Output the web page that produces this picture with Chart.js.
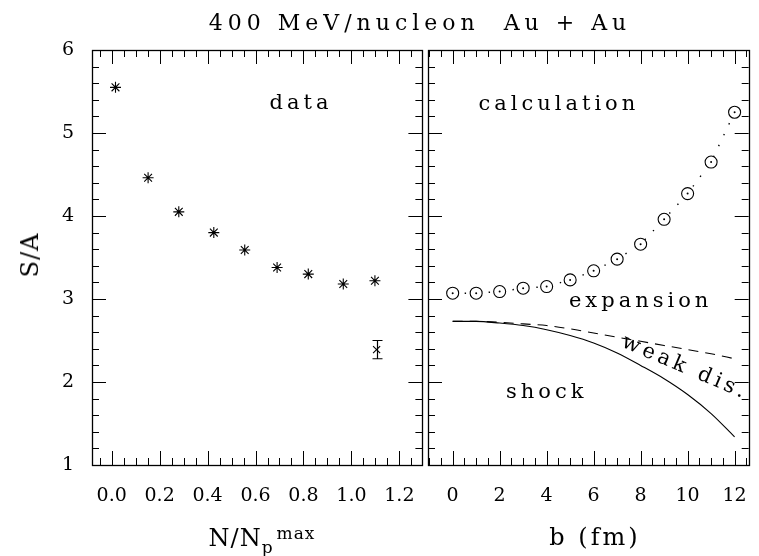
<!DOCTYPE html>
<html>
<head>
<meta charset="utf-8">
<title>S/A 400 MeV/nucleon Au + Au</title>
<script src="https://cdn.jsdelivr.net/npm/chart.js@4.4.1/dist/chart.umd.min.js"></script>
<style>
  body { margin: 0; background: #fff; }
  #wrap { position: relative; width: 759px; height: 556px; font-family: "DejaVu Serif", serif; color: #000; overflow: hidden; }
  canvas { position: absolute; top: 0; }
  #leftChart { left: 0; }
  #rightChart { left: 408px; }
  .lbl { position: absolute; white-space: nowrap; line-height: 1; }
  #title { left: 420px; top: 12px; font-size: 22px; letter-spacing: 5px; transform: translateX(-50%); }
  #ylabel { left: 30px; top: 255px; font-size: 24px; letter-spacing: 1px; transform: translate(-50%, -50%) rotate(-90deg); }
  #xlabelLeft { left: 262px; top: 525px; font-size: 24px; letter-spacing: 1px; transform: translateX(-50%); }
  #xlabelLeft sub { font-size: 17px; vertical-align: -7px; }
  #xlabelLeft sup { font-size: 17px; vertical-align: 7px; letter-spacing: 1px; margin-left: 3px; }
  #xlabelRight { left: 595px; top: 525px; font-size: 24px; letter-spacing: 3px; transform: translateX(-50%); }
</style>
</head>
<body>
<div id="wrap">
  <canvas id="leftChart" width="429" height="556"></canvas>
  <canvas id="rightChart" width="351" height="556"></canvas>
  <div class="lbl" id="title">400 MeV/nucleon&nbsp; Au + Au</div>
  <div class="lbl" id="ylabel">S/A</div>
  <div class="lbl" id="xlabelLeft">N/N<sub>p</sub><sup>max</sup></div>
  <div class="lbl" id="xlabelRight">b (fm)</div>
</div>
<script>
// measured S/A versus N/Np^max
const dataX = [0.016, 0.152, 0.28, 0.426, 0.555, 0.69, 0.82, 0.966, 1.098];
const dataSA = [5.55, 4.46, 4.05, 3.80, 3.59, 3.38, 3.30, 3.18, 3.22];

// single point with error bar
const refX = [1.105];
const refSA = [2.39];
const refLow = [2.28];
const refHigh = [2.50];

// calculation versus impact parameter
const bValues = [0, 1, 2, 3, 4, 5, 6, 7, 8, 9, 10, 11, 12];
const calcSA = [3.07, 3.07, 3.09, 3.13, 3.15, 3.23, 3.34, 3.48, 3.66, 3.96, 4.27, 4.65, 5.25];
const shockSA = [2.73, 2.73, 2.71, 2.68, 2.63, 2.56, 2.47, 2.35, 2.20, 2.04, 1.85, 1.62, 1.34];
const weakSA = [2.73, 2.73, 2.72, 2.70, 2.68, 2.64, 2.59, 2.54, 2.49, 2.44, 2.39, 2.34, 2.28];

// axes
const yRange = [1, 6];
const yMajor = 1;
const yMinor = 0.2;
const leftRange = [-0.082, 1.296];
const leftMajor = 0.2;
const leftMinor = 0.05;
const rightRange = [-1.05, 12.6];
const rightMajor = 2;
const rightMinor = 0.5;

const serif = "DejaVu Serif";
const tickFont = { family: serif, size: 19 };

function pairs(xs, ys) {
  return xs.map((x, i) => ({ x, y: ys[i] }));
}

// inward ticks on all four sides plus the frame
const frameTicks = {
  id: "frameTicks",
  afterDraw(chart, args, opts) {
    const { ctx, chartArea: a } = chart;
    const x = chart.scales.x;
    const y = chart.scales.y;
    ctx.save();
    ctx.strokeStyle = "#000";
    ctx.lineWidth = 1;
    ctx.beginPath();
    const xi0 = Math.ceil(x.min / opts.xMinor - 1e-6);
    const xi1 = Math.floor(x.max / opts.xMinor + 1e-6);
    const xPer = Math.round(opts.xMajor / opts.xMinor);
    for (let i = xi0; i <= xi1; i++) {
      const px = Math.round(x.getPixelForValue(i * opts.xMinor)) + 0.5;
      const len = i % xPer === 0 ? 14 : 7;
      ctx.moveTo(px, a.bottom);
      ctx.lineTo(px, a.bottom - len);
      ctx.moveTo(px, a.top);
      ctx.lineTo(px, a.top + len);
    }
    const yi0 = Math.ceil(y.min / yMinor - 1e-6);
    const yi1 = Math.floor(y.max / yMinor + 1e-6);
    const yPer = Math.round(yMajor / yMinor);
    for (let i = yi0; i <= yi1; i++) {
      const py = Math.round(y.getPixelForValue(i * yMinor)) + 0.5;
      const len = i % yPer === 0 ? 14 : 7;
      ctx.moveTo(a.left, py);
      ctx.lineTo(a.left + len, py);
      ctx.moveTo(a.right, py);
      ctx.lineTo(a.right - len, py);
    }
    ctx.stroke();
    ctx.lineWidth = 1.3;
    ctx.strokeRect(Math.round(a.left) + 0.5, Math.round(a.top) + 0.5,
      Math.round(a.right - a.left), Math.round(a.bottom - a.top));
    ctx.restore();
  }
};

// text placed in data coordinates
const notes = {
  id: "notes",
  afterDraw(chart, args, opts) {
    const { ctx } = chart;
    const x = chart.scales.x;
    const y = chart.scales.y;
    ctx.save();
    ctx.fillStyle = "#000";
    ctx.font = "21px " + serif;
    ctx.letterSpacing = "4px";
    ctx.textAlign = "center";
    ctx.textBaseline = "middle";
    opts.items.forEach(n => {
      ctx.save();
      ctx.translate(x.getPixelForValue(n.x), y.getPixelForValue(n.y));
      if (n.rot) ctx.rotate(n.rot * Math.PI / 180);
      ctx.fillText(n.text, 0, 0);
      ctx.restore();
    });
    ctx.restore();
  }
};

// vertical error bar with caps
const errorBars = {
  id: "errorBars",
  afterDatasetsDraw(chart) {
    const { ctx } = chart;
    const x = chart.scales.x;
    const y = chart.scales.y;
    ctx.save();
    ctx.strokeStyle = "#000";
    ctx.lineWidth = 1.2;
    refX.forEach((v, i) => {
      const px = Math.round(x.getPixelForValue(v)) + 0.5;
      const top = y.getPixelForValue(refHigh[i]);
      const bot = y.getPixelForValue(refLow[i]);
      ctx.beginPath();
      ctx.moveTo(px, top);
      ctx.lineTo(px, bot);
      ctx.moveTo(px - 5, top);
      ctx.lineTo(px + 5, top);
      ctx.moveTo(px - 5, bot);
      ctx.lineTo(px + 5, bot);
      ctx.stroke();
    });
    ctx.restore();
  }
};

function baseScales(range, major, decimals, yWidth, showY) {
  return {
    x: {
      type: "linear",
      min: range[0],
      max: range[1],
      grid: { display: false },
      border: { display: false },
      ticks: {
        stepSize: major,
        includeBounds: false,
        autoSkip: false,
        maxRotation: 0,
        padding: 12,
        color: "#000",
        font: tickFont,
        callback: v => Number(v).toFixed(decimals)
      },
      afterFit: s => { s.height = 91; }
    },
    y: {
      type: "linear",
      display: showY,
      min: yRange[0],
      max: yRange[1],
      grid: { display: false },
      border: { display: false },
      ticks: {
        stepSize: yMajor,
        includeBounds: false,
        padding: 10,
        color: "#000",
        font: tickFont
      },
      afterFit: s => { s.width = yWidth; }
    }
  };
}

function createLeftChart() {
  const ctx = document.getElementById("leftChart");
  new Chart(ctx, {
    type: "scatter",
    data: {
      datasets: [
        {
          data: pairs(dataX, dataSA),
          pointStyle: "star",
          pointRadius: 5.5,
          pointBorderColor: "#000",
          pointBorderWidth: 1.1,
          pointBackgroundColor: "#000"
        },
        {
          data: pairs(refX, refSA),
          pointStyle: "crossRot",
          pointRadius: 5,
          pointBorderColor: "#000",
          pointBorderWidth: 1.1
        }
      ]
    },
    options: {
      responsive: false,
      animation: false,
      events: [],
      layout: { padding: { top: 50, right: 1, left: 0, bottom: 0 } },
      scales: baseScales(leftRange, leftMajor, 1, 92, true),
      plugins: {
        legend: { display: false },
        tooltip: { enabled: false },
        frameTicks: { xMajor: leftMajor, xMinor: leftMinor },
        notes: { items: [{ text: "data", x: 0.79, y: 5.35 }] }
      }
    },
    plugins: [frameTicks, notes, errorBars]
  });
}

function createRightChart() {
  const ctx = document.getElementById("rightChart");
  new Chart(ctx, {
    type: "scatter",
    data: {
      datasets: [
        {
          data: pairs(bValues, calcSA),
          pointRadius: 1,
          pointBorderWidth: 0,
          pointBackgroundColor: "#000",
          order: 0
        },
        {
          data: pairs(bValues, calcSA),
          showLine: true,
          borderColor: "#000",
          borderWidth: 1.4,
          borderDash: [1.4, 10.6],
          pointStyle: "circle",
          pointRadius: 6,
          pointBorderColor: "#000",
          pointBorderWidth: 1.1,
          pointBackgroundColor: "#fff",
          order: 1
        },
        {
          data: pairs(bValues, weakSA),
          showLine: true,
          borderColor: "#000",
          borderWidth: 1.1,
          borderDash: [10, 7],
          cubicInterpolationMode: "monotone",
          pointRadius: 0,
          order: 2
        },
        {
          data: pairs(bValues, shockSA),
          showLine: true,
          borderColor: "#000",
          borderWidth: 1.1,
          cubicInterpolationMode: "monotone",
          pointRadius: 0,
          order: 2
        }
      ]
    },
    options: {
      responsive: false,
      animation: false,
      events: [],
      layout: { padding: { top: 50, right: 2, left: 0, bottom: 0 } },
      scales: baseScales(rightRange, rightMajor, 0, 20, false),
      plugins: {
        legend: { display: false },
        tooltip: { enabled: false },
        frameTicks: { xMajor: rightMajor, xMinor: rightMinor },
        notes: {
          items: [
            { text: "calculation", x: 4.52, y: 5.34 },
            { text: "expansion", x: 8.0, y: 2.97 },
            { text: "shock", x: 4.0, y: 1.87 },
            { text: "weak dis.", x: 9.9, y: 2.17, rot: 23 }
          ]
        }
      }
    },
    plugins: [frameTicks, notes]
  });
}

function init() {
  createLeftChart();
  createRightChart();
}

document.addEventListener("DOMContentLoaded", init);
</script>
</body>
</html>
